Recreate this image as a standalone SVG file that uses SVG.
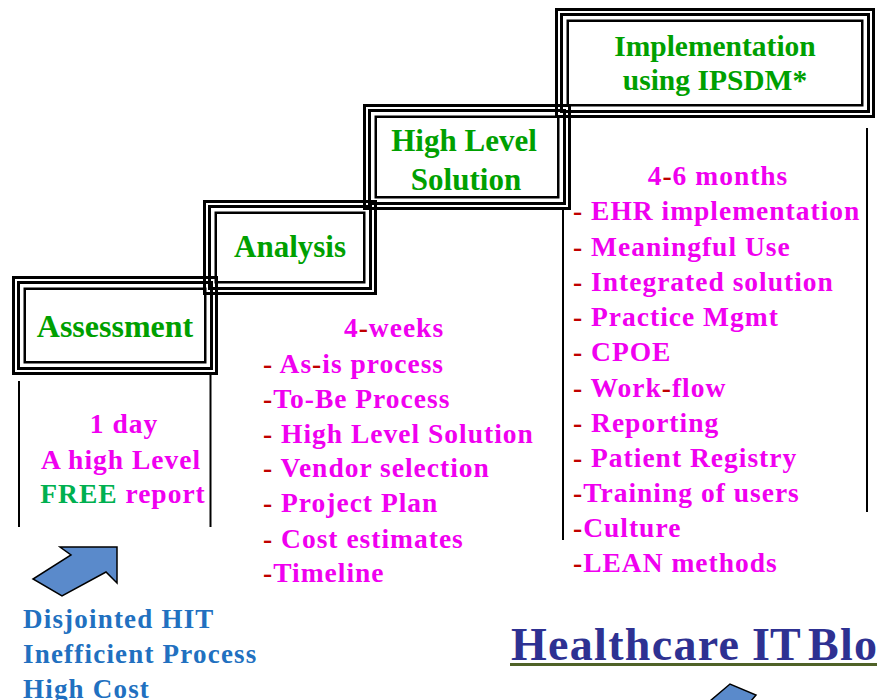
<svg xmlns="http://www.w3.org/2000/svg" width="877" height="700" viewBox="0 0 877 700">
<style>
  .f1{fill:none;stroke:#000;stroke-width:3}
  .f2{fill:none;stroke:#000;stroke-width:3}
  .f3{fill:none;stroke:#000;stroke-width:2.5}
  .lbl{font-family:"Liberation Serif","Times New Roman",serif;font-weight:bold;font-size:31px;fill:#00A000;text-anchor:middle}
  .mg{font-family:"Liberation Serif","Times New Roman",serif;font-weight:bold;font-size:27.5px;fill:#F000F0;letter-spacing:1px}
  .mc{text-anchor:middle}
  .dr{fill:#C00000}
  .fr{fill:#00B050}
  .bl{font-family:"Liberation Serif","Times New Roman",serif;font-weight:bold;font-size:27px;fill:#2170C0;letter-spacing:1.2px}
  .hd{font-family:"Liberation Serif","Times New Roman",serif;font-weight:bold;font-size:46px;fill:#2E3192;letter-spacing:1.3px}
  .div{stroke:#000;stroke-width:2;fill:none}
  .arr{fill:#5A8ACB;stroke:#000;stroke-width:1.5;stroke-linejoin:miter}
</style>
<rect width="877" height="700" fill="#fff"/>

<g id="dividers">
  <line class="div" x1="19" y1="381" x2="19" y2="527"/>
  <line class="div" x1="210.5" y1="375" x2="210.5" y2="527"/>
  <line class="div" x1="563" y1="210" x2="563" y2="540"/>
  <line class="div" x1="867" y1="128" x2="867" y2="512"/>
</g>

<g id="assessment">
  <rect class="f1" x="13.5" y="277.5" width="203" height="96"/>
  <rect class="f2" x="18.5" y="282.5" width="193" height="86"/>
  <rect class="f3" x="24.75" y="288.75" width="180.5" height="73.5"/>
  <text class="lbl" x="115" y="337" style="font-size:32px">Assessment</text>
</g>

<g id="analysis">
  <rect class="f1" x="204.5" y="201.5" width="171" height="92"/>
  <rect class="f2" x="209.5" y="206.5" width="161" height="82"/>
  <rect class="f3" x="215.75" y="212.75" width="148.5" height="69.5"/>
  <text class="lbl" x="290" y="257">Analysis</text>
</g>

<g id="high-level-solution">
  <rect class="f1" x="364.5" y="105.5" width="205" height="103"/>
  <rect class="f2" x="369.5" y="110.5" width="195" height="93"/>
  <rect class="f3" x="375.75" y="116.75" width="182.5" height="80.5"/>
  <text class="lbl" x="464" y="151">High Level</text>
  <text class="lbl" x="466" y="190">Solution</text>
</g>

<g id="implementation">
  <rect class="f1" x="556.5" y="9.5" width="317" height="107"/>
  <rect class="f2" x="561.5" y="14.5" width="307" height="97"/>
  <rect class="f3" x="567.75" y="20.75" width="294.5" height="84.5"/>
  <text class="lbl" x="715" y="56" style="font-size:29.5px">Implementation</text>
  <text class="lbl" x="715" y="90" style="font-size:29.5px">using IPSDM*</text>
</g>

<g id="assessment-details">
  <text class="mg mc" x="124" y="433">1 day</text>
  <text class="mg mc" x="121" y="469">A high Level</text>
  <text class="mg mc" x="123" y="503"><tspan class="fr">FREE</tspan> report</text>
</g>

<g id="analysis-details">
  <text class="mg mc" x="394" y="337">4<tspan class="dr">-</tspan>weeks</text>
  <text class="mg" x="263" y="373"><tspan class="dr">- </tspan>As<tspan class="dr">-</tspan>is process</text>
  <text class="mg" x="263" y="408"><tspan class="dr">-</tspan>To-Be Process</text>
  <text class="mg" x="263" y="443"><tspan class="dr">- </tspan>High Level Solution</text>
  <text class="mg" x="263" y="477"><tspan class="dr">- </tspan>Vendor selection</text>
  <text class="mg" x="263" y="512"><tspan class="dr">- </tspan>Project Plan</text>
  <text class="mg" x="263" y="548"><tspan class="dr">- </tspan>Cost estimates</text>
  <text class="mg" x="263" y="582"><tspan class="dr">-</tspan>Timeline</text>
</g>

<g id="implementation-details">
  <text class="mg mc" x="718" y="185">4<tspan class="dr">-</tspan>6 months</text>
  <text class="mg" x="573" y="220"><tspan class="dr">- </tspan>EHR implementation</text>
  <text class="mg" x="573" y="256"><tspan class="dr">- </tspan>Meaningful Use</text>
  <text class="mg" x="573" y="291"><tspan class="dr">- </tspan>Integrated solution</text>
  <text class="mg" x="573" y="326"><tspan class="dr">- </tspan>Practice Mgmt</text>
  <text class="mg" x="573" y="361"><tspan class="dr">- </tspan>CPOE</text>
  <text class="mg" x="573" y="397"><tspan class="dr">- </tspan>Work<tspan class="dr">-</tspan>flow</text>
  <text class="mg" x="573" y="432"><tspan class="dr">- </tspan>Reporting</text>
  <text class="mg" x="573" y="467"><tspan class="dr">- </tspan>Patient Registry</text>
  <text class="mg" x="573" y="502"><tspan class="dr">-</tspan>Training of users</text>
  <text class="mg" x="573" y="537"><tspan class="dr">-</tspan>Culture</text>
  <text class="mg" x="573" y="572"><tspan class="dr">-</tspan>LEAN methods</text>
</g>

<g id="problems">
  <polygon class="arr" points="60,547 117,547 117,583 106,572 62,596 33,579 71,555"/>
  <text class="bl" x="23" y="628">Disjointed HIT</text>
  <text class="bl" x="23" y="663">Inefficient Process</text>
  <text class="bl" x="23" y="698">High Cost</text>
</g>

<g id="blog">
  <text class="hd" y="660"><tspan x="511">Healthcare</tspan><tspan x="752" style="letter-spacing:0">IT</tspan><tspan x="808">Blo</tspan></text>
  <line x1="510" y1="664.5" x2="877" y2="664.5" stroke="#4F6228" stroke-width="3"/>
  <polygon class="arr" points="710,701 730,684 756,695 751,701"/>
</g>
</svg>
